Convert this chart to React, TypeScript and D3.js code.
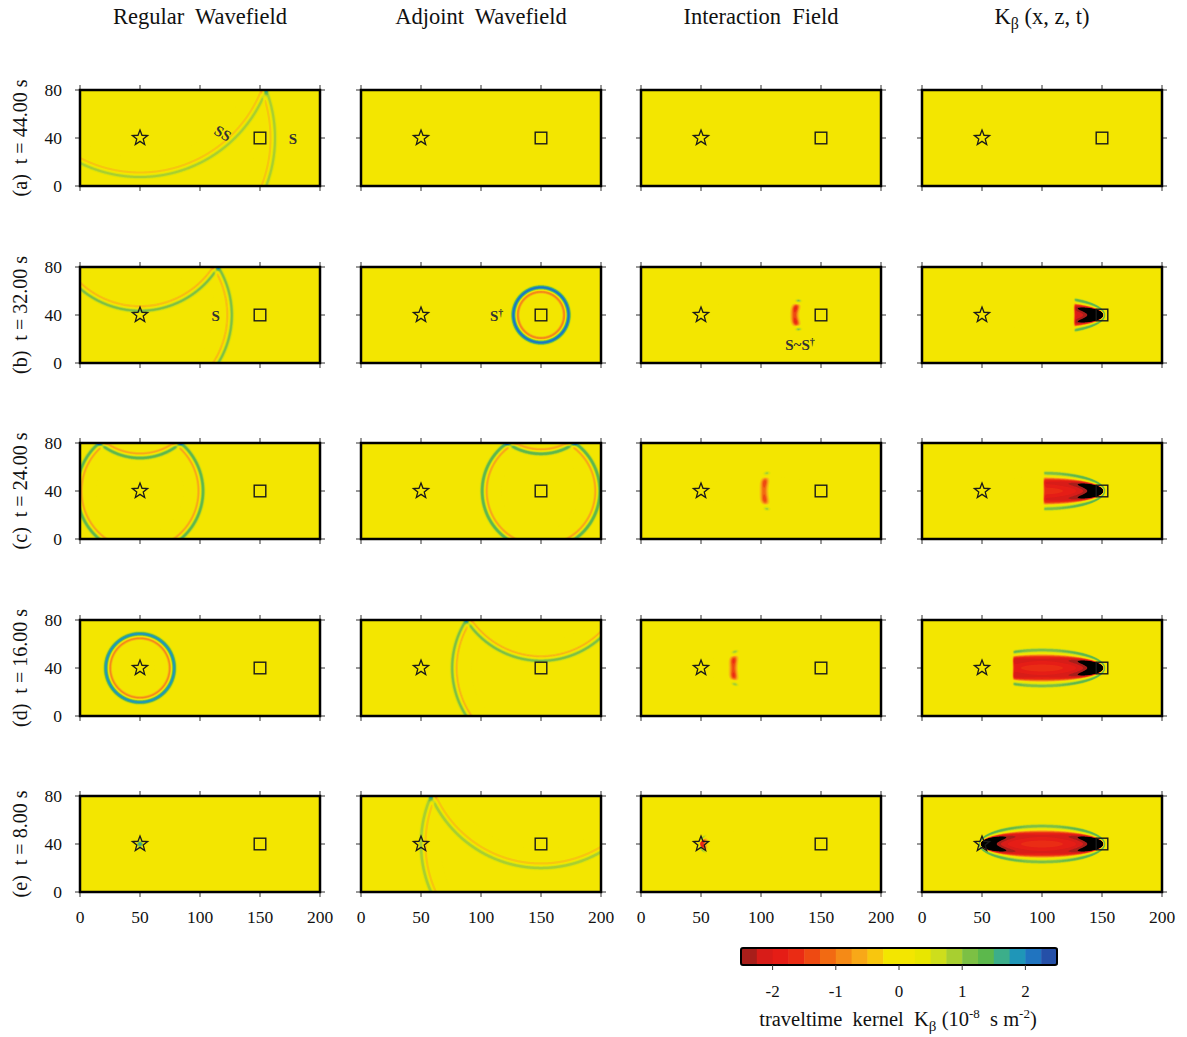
import React, { useMemo } from "react";
import * as d3 from "d3";

// ---------- data ----------
const columnTitles = ["Regular  Wavefield", "Adjoint  Wavefield", "Interaction  Field"];
const rowLetters = ["(a)", "(b)", "(c)", "(d)", "(e)"];
const times = [44, 32, 24, 16, 8];
const regularRadius = [112.5, 76.5, 52.5, 28.5, 2];
const adjointRadius = [0, 23, 49, 74, 100];
const interactionX = [NaN, 128, 102.5, 77, 51];
const kernelCutX = [NaN, 127, 101.5, 76, 46];
const sourceXZ = [50, 40];
const receiverXZ = [150, 40];
const freeSurfaceZ = 80;
const xTicks = [0, 50, 100, 150, 200];
const zTicks = [0, 40, 80];
const colorbarTicks = [-2, -1, 0, 1, 2];
const levels = d3.range(21).map((i) => -2.5 + i * 0.25);
const bandColors = [
  "#a81e1a", "#d81c18", "#e51d16", "#ea2c14", "#ee4a12",
  "#f26a12", "#f58a16", "#f8a818", "#f8c60e", "#f3e600",
  "#f3e600", "#e8e600", "#cede1c", "#a8cf30", "#7cc044",
  "#5cb84c", "#3cae8a", "#1f96b8", "#2074c0", "#2550a8",
];
const underColor = "#000000";
const overColor = "#ffffff";

// ---------- layout ----------
const W = 1187, H = 1037;
const colLeft = [80, 361, 641, 922];
const rowTop = [90, 267, 443, 620, 796];
const panelW = 240, panelH = 96;
const NX = 400, NZ = 160, DX = 0.5, DZ = 0.5;
const FONT = "'Liberation Serif', 'Times New Roman', serif";

// ---------- field model ----------
function profile(s: number, A: number) {
  return A * (Math.exp(-((s / 1.8) ** 2)) - 0.46 * Math.exp(-(((s + 3.6) / 1.4) ** 2)));
}
function amplitude(r: number) {
  return Math.min(2.3, 2.0 * Math.pow(28.5 / r, 0.55));
}
function wave(x: number, z: number, cx: number, cz: number, r: number) {
  if (r <= 0) return 0;
  const d = Math.hypot(x - cx, z - cz);
  if (r < 6) return 1.9 * Math.exp(-((d / 2.4) ** 2));
  const A = amplitude(r);
  const dm = Math.hypot(x - cx, z - (2 * freeSurfaceZ - cz));
  return profile(d - r, A) + profile(dm - r, A);
}
function hShape(delta: number) {
  const d = Math.max(0, delta * 1.6);
  if (d < 1.5) return 0.8 + 0.2 * Math.sin((Math.PI * d) / 3);
  if (d < 4.5) return Math.cos((Math.PI * (d - 1.5)) / 6);
  return -0.62 * Math.exp(-(((d - 7) / 1.7) ** 2));
}
function kernelFull(x: number, z: number, Fmax: number) {
  const [sx, sz] = sourceXZ;
  const [rx, rz] = receiverXZ;
  const L = rx - sx;
  const d1 = Math.hypot(x - sx, z - sz);
  const d2 = Math.hypot(x - rx, z - rz);
  const h = hShape(d1 + d2 - L);
  let F = L / 2 / Math.sqrt(Math.max(d1 * d2, 0.25));
  F = Math.min(F, h > 0 ? Fmax : 1.2);
  return -2.05 * F * h;
}
function fieldValue(col: number, row: number, x: number, z: number) {
  if (col === 0) return wave(x, z, sourceXZ[0], sourceXZ[1], regularRadius[row]);
  if (col === 1) return wave(x, z, receiverXZ[0], receiverXZ[1], adjointRadius[row]);
  if (col === 2) {
    const xm = interactionX[row];
    if (isNaN(xm)) return 0;
    const y = z - receiverXZ[1];
    const xc = xm + (y * y) / (2 * Math.max(receiverXZ[0] - xm, 4));
    return kernelFull(x, z, 1.35) * 0.72 * Math.exp(-(((x - xc) / 3.0) ** 2));
  }
  const xc = kernelCutX[row];
  if (isNaN(xc)) return 0;
  return kernelFull(x, z, 12) / (1 + Math.exp(-(x - xc) / 0.4));
}

function starPath(cx: number, cy: number, R: number, r: number) {
  const pts: [number, number][] = [];
  for (let i = 0; i < 10; i++) {
    const a = -Math.PI / 2 + (i * Math.PI) / 5;
    const rr = i % 2 === 0 ? R : r;
    pts.push([cx + rr * Math.cos(a), cy + rr * Math.sin(a)]);
  }
  return "M" + pts.map((p) => p.join(",")).join("L") + "Z";
}

export default function App() {
  const panels = useMemo(() => {
    const out: any[] = [];
    for (let row = 0; row < 5; row++) {
      for (let col = 0; col < 4; col++) {
        const left = colLeft[col], top = rowTop[row];
        const xs = d3.scaleLinear().domain([0, 200]).range([left, left + panelW]);
        const zs = d3.scaleLinear().domain([0, 80]).range([top + panelH, top]);
        const values = new Float64Array(NX * NZ);
        for (let j = 0; j < NZ; j++) {
          const z = 80 - (j + 0.5) * DZ;
          for (let i = 0; i < NX; i++) {
            const x = (i + 0.5) * DX;
            values[i + j * NX] = fieldValue(col, row, x, z);
          }
        }
        const contours = d3.contours().size([NX, NZ]).thresholds(levels)(values as any);
        const proj = d3.geoTransform({
          point: function (px: number, py: number) {
            (this as any).stream.point(xs(px * DX), zs(80 - py * DZ));
          },
        });
        const path = d3.geoPath(proj as any);
        const paths = contours
          .map((c, k) => ({
            d: c.coordinates.length ? path(c as any) : null,
            fill: k < bandColors.length ? bandColors[k] : overColor,
          }))
          .filter((p) => p.d);
        out.push({ row, col, left, top, xs, zs, paths });
      }
    }
    return out;
  }, []);

  const cb = d3.scaleLinear().domain([-2.5, 2.5]).range([741, 1057]);
  const cbTop = 948, cbH = 17;

  return (
    <svg
      width={W}
      height={H}
      style={{ position: "absolute", left: 0, top: 0, background: "#fff" }}
      fontFamily={FONT}
    >
      <defs>
        {panels.map((p) => (
          <clipPath id={`clip-${p.row}-${p.col}`} key={`c${p.row}-${p.col}`}>
            <rect x={p.left} y={p.top} width={panelW} height={panelH} />
          </clipPath>
        ))}
      </defs>

      {/* column titles */}
      {columnTitles.map((t, i) => (
        <text
          key={t}
          x={colLeft[i] + panelW / 2}
          y={24}
          textAnchor="middle"
          fontSize={22.5}
          fill="#111"
          style={{ whiteSpace: "pre" }}
        >
          {t}
        </text>
      ))}
      <text x={colLeft[3] + panelW / 2} y={24} textAnchor="middle" fontSize={22.5} fill="#111">
        K<tspan fontSize={16} dy={5}>β</tspan>
        <tspan dy={-5}> (x, z, t)</tspan>
      </text>

      {/* row labels */}
      {rowLetters.map((l, r) => (
        <text
          key={l}
          transform={`translate(27, ${rowTop[r] + panelH / 2}) rotate(-90)`}
          textAnchor="middle"
          fontSize={20}
          fill="#111"
          style={{ whiteSpace: "pre" }}
        >
          {`${l}  t = ${times[r].toFixed(2)} s`}
        </text>
      ))}

      {panels.map((p) => (
        <g key={`p${p.row}-${p.col}`}>
          <g clipPath={`url(#clip-${p.row}-${p.col})`}>
            <rect x={p.left} y={p.top} width={panelW} height={panelH} fill={underColor} />
            {p.paths.map((q: any, k: number) => (
              <path key={k} d={q.d} fill={q.fill} />
            ))}
          </g>
          {/* ticks */}
          {xTicks.map((t) => (
            <g key={`xt${t}`} stroke="#333" strokeWidth={1}>
              <line x1={p.xs(t)} x2={p.xs(t)} y1={p.top} y2={p.top - 5} />
              <line x1={p.xs(t)} x2={p.xs(t)} y1={p.top + panelH} y2={p.top + panelH + 5} />
            </g>
          ))}
          {zTicks.map((t) => (
            <g key={`zt${t}`} stroke="#333" strokeWidth={1}>
              <line x1={p.left} x2={p.left - 5} y1={p.zs(t)} y2={p.zs(t)} />
              <line x1={p.left + panelW} x2={p.left + panelW + 5} y1={p.zs(t)} y2={p.zs(t)} />
            </g>
          ))}
          <rect
            x={p.left}
            y={p.top}
            width={panelW}
            height={panelH}
            fill="none"
            stroke="#000"
            strokeWidth={2.5}
          />
          {/* source & receiver */}
          <path
            d={starPath(p.xs(sourceXZ[0]), p.zs(sourceXZ[1]), 8, 3.4)}
            fill="none"
            stroke="#1a1a1a"
            strokeWidth={1.3}
          />
          <rect
            x={p.xs(receiverXZ[0]) - 5.8}
            y={p.zs(receiverXZ[1]) - 5.8}
            width={11.6}
            height={11.6}
            fill="none"
            stroke="#1a1a1a"
            strokeWidth={1.4}
          />
          {/* tick labels */}
          {p.col === 0 &&
            zTicks.map((t) => (
              <text
                key={`zl${t}`}
                x={p.left - 18}
                y={p.zs(t)}
                dy="0.35em"
                textAnchor="end"
                fontSize={17.5}
                fill="#111"
              >
                {t}
              </text>
            ))}
          {p.row === 4 &&
            xTicks.map((t) => (
              <text
                key={`xl${t}`}
                x={p.xs(t)}
                y={p.top + panelH + 31}
                textAnchor="middle"
                fontSize={17.5}
                fill="#111"
              >
                {t}
              </text>
            ))}
        </g>
      ))}

      {/* phase annotations */}
      <g fontSize={15} fontWeight="bold" fill="#333" textAnchor="middle">
        <text
          transform={`translate(${panels[0].xs(119)}, ${panels[0].zs(44)}) rotate(30)`}
          dy="0.35em"
        >
          SS
        </text>
        <text x={panels[0].xs(177.5)} y={panels[0].zs(39)} dy="0.35em">
          S
        </text>
        <text x={panels[4].xs(113)} y={panels[4].zs(39)} dy="0.35em">
          S
        </text>
        <text x={panels[5].xs(113)} y={panels[5].zs(39)} dy="0.35em">
          S<tspan fontSize={10} dy={-5}>†</tspan>
        </text>
        <text x={panels[6].xs(132.5)} y={panels[6].zs(15)} dy="0.35em">
          S~S<tspan fontSize={10} dy={-5}>†</tspan>
        </text>
      </g>

      {/* colorbar */}
      {bandColors.map((c, k) => (
        <rect
          key={`cb${k}`}
          x={cb(levels[k])}
          y={cbTop}
          width={cb(levels[k + 1]) - cb(levels[k]) + 0.5}
          height={cbH}
          fill={c}
        />
      ))}
      <rect
        x={cb(-2.5)}
        y={cbTop}
        width={cb(2.5) - cb(-2.5)}
        height={cbH}
        rx={2}
        fill="none"
        stroke="#000"
        strokeWidth={2}
      />
      {colorbarTicks.map((t) => (
        <g key={`cbt${t}`}>
          <line x1={cb(t)} x2={cb(t)} y1={cbTop + cbH} y2={cbTop + cbH + 5} stroke="#333" />
          <text x={cb(t)} y={997} textAnchor="middle" fontSize={17} fill="#111">
            {t}
          </text>
        </g>
      ))}
      <text x={898} y={1026} textAnchor="middle" fontSize={20.5} fill="#111" style={{ whiteSpace: "pre" }}>
        {"traveltime  kernel  K"}
        <tspan fontSize={15} dy={5}>β</tspan>
        <tspan dy={-5}>{" (10"}</tspan>
        <tspan fontSize={13} dy={-8}>{"-8"}</tspan>
        <tspan dy={8}>{"  s m"}</tspan>
        <tspan fontSize={13} dy={-8}>{"-2"}</tspan>
        <tspan dy={8}>{")"}</tspan>
      </text>
    </svg>
  );
}
